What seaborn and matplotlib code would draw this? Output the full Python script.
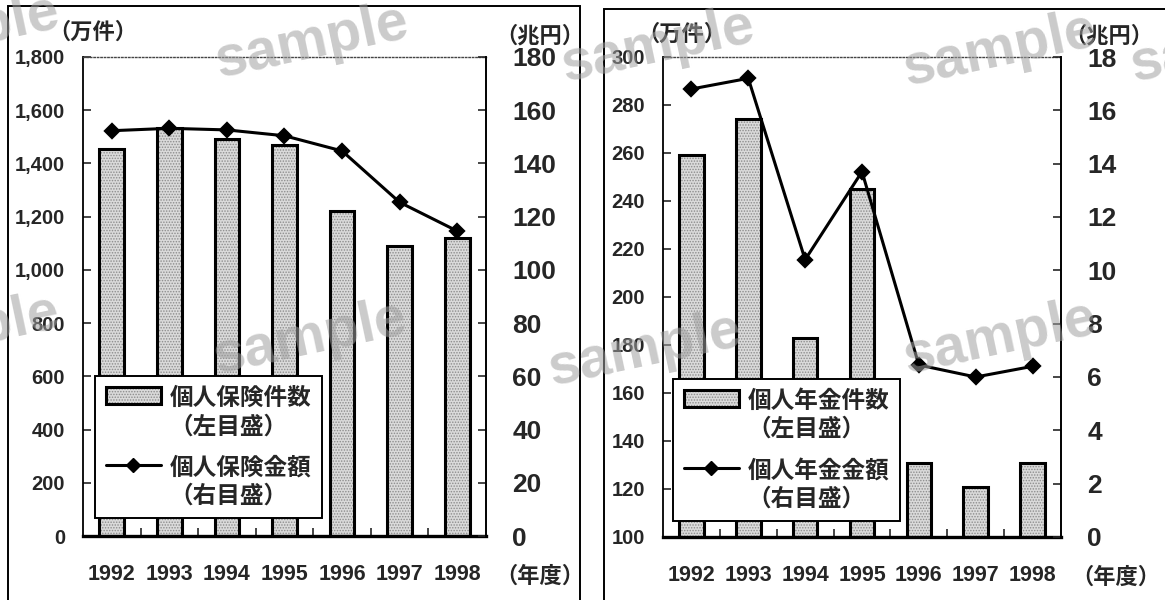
import numpy as np
import pandas as pd
import matplotlib
matplotlib.use("Agg")
import matplotlib.pyplot as plt
import seaborn as sns
from matplotlib.patches import Rectangle
from matplotlib.lines import Line2D
from matplotlib.legend_handler import HandlerBase
from matplotlib.font_manager import FontProperties, fontManager

# ---- data -------------------------------------------------------------
years = ["1992", "1993", "1994", "1995", "1996", "1997", "1998"]

insurance_count = [1455, 1535, 1493, 1470, 1223, 1090, 1120]          # 万件
insurance_amount = [152.3, 153.2, 152.6, 150.4, 144.7, 125.4, 114.6]  # 兆円

annuity_count = [259, 274, 183, 245, 131, 121, 131]                   # 万件
annuity_amount = [16.8, 17.2, 10.4, 13.7, 6.45, 6.0, 6.4]             # 兆円

ins_left_ticks = [0, 200, 400, 600, 800, 1000, 1200, 1400, 1600, 1800]
ins_left_labels = ["0", "200", "400", "600", "800", "1,000", "1,200",
                   "1,400", "1,600", "1,800"]
ins_right_ticks = [0, 20, 40, 60, 80, 100, 120, 140, 160, 180]

ann_left_ticks = [100, 120, 140, 160, 180, 200, 220, 240, 260, 280, 300]
ann_right_ticks = [0, 2, 4, 6, 8, 10, 12, 14, 16, 18]

ins_labels = ["個人保険件数\n（左目盛）", "個人保険金額\n（右目盛）"]
ann_labels = ["個人年金件数\n（左目盛）", "個人年金金額\n（右目盛）"]

# ---- style ------------------------------------------------------------
sns.set_style("white")
plt.rcParams["font.family"] = ["Noto Sans CJK JP", "DejaVu Sans"]
plt.rcParams["hatch.linewidth"] = 0.7

W, H = 1165, 600
installed = {f.name for f in fontManager.ttflist}
NUM = "Liberation Sans"
NARROW = "Liberation Sans Narrow" if "Liberation Sans Narrow" in installed else NUM
XSIZE = 17 if NARROW != NUM else 15.5

BAR_FACE = "#dadada"
HATCH = "......"
HATCH_COLOR = "#8c8c8c"
CJK_BOLD = FontProperties(family="Noto Sans CJK JP", weight="bold", size=16)
LEG_FONT = FontProperties(family="Noto Sans CJK JP", weight="bold", size=17)
LIFT = 13.0  # points: raise legend keys to the first label line


def fx(x):
    return x / W


def fy(y):
    return 1 - y / H


class BarKey(HandlerBase):
    def create_artists(self, legend, orig_handle, xdescent, ydescent,
                       width, height, fontsize, trans):
        y0 = -ydescent + LIFT
        fill = Rectangle((-xdescent, y0), width, height, facecolor=BAR_FACE,
                         edgecolor=HATCH_COLOR, hatch=HATCH, linewidth=0,
                         transform=trans)
        edge = Rectangle((-xdescent, y0), width, height, fill=False,
                         edgecolor="black", linewidth=2.2, transform=trans)
        return [fill, edge]


class LineKey(HandlerBase):
    def create_artists(self, legend, orig_handle, xdescent, ydescent,
                       width, height, fontsize, trans):
        yc = -ydescent + height / 2 + LIFT
        line = Line2D([-xdescent, -xdescent + width], [yc, yc],
                      color="black", linewidth=2.2, transform=trans)
        mark = Line2D([-xdescent + width / 2], [yc], marker="D",
                      markersize=7.5, color="black", linestyle="none",
                      transform=trans)
        return [line, mark]


fig = plt.figure(figsize=(W / 100, H / 100), dpi=100)


def panel(rect, counts, amounts, lticks, llabels, llim, rticks, rlim,
          labels, leg_anchor):
    ax = fig.add_axes(rect)
    df = pd.DataFrame({"year": years, "count": counts, "amount": amounts})

    # dotted grey bars, then a black outline on top of them
    sns.barplot(data=df, x="year", y="count", ax=ax, width=0.43,
                color=BAR_FACE, saturation=1, edgecolor=HATCH_COLOR,
                linewidth=0, hatch=HATCH, errorbar=None, zorder=2)
    sns.barplot(data=df, x="year", y="count", ax=ax, width=0.43,
                color="black", fill=False, linewidth=2.2, errorbar=None,
                zorder=3)
    ax.set_ylim(*llim)
    ax.set_xlim(-0.5, len(years) - 0.5)
    ax.set_yticks(lticks, llabels, fontsize=14.5, fontweight="bold", family=NUM)
    ax.set_xticks(range(len(years)), years, fontsize=XSIZE,
                  fontweight="bold", family=NARROW)
    ax.set_xticks(np.arange(0.5, len(years) - 1, 1.0), minor=True)
    ax.tick_params(axis="y", direction="in", length=6, width=1.2, pad=13,
                   left=True)
    ax.tick_params(axis="x", which="major", length=0, pad=20)
    ax.tick_params(axis="x", which="minor", direction="in", length=6,
                   width=1.2, bottom=True)
    ax.set_xlabel("")
    ax.set_ylabel("")
    for s in ax.spines.values():
        s.set_color("black")
    ax.spines["left"].set_linewidth(1.3)
    ax.spines["bottom"].set_linewidth(2.4)
    ax.spines["bottom"].set_zorder(5)
    ax.spines["top"].set_linestyle((0, (1, 1.5)))
    ax.spines["top"].set_linewidth(1.0)
    ax.spines["top"].set_color("#444444")
    ax.spines["right"].set_visible(False)

    ax2 = ax.twinx()
    sns.pointplot(data=df, x="year", y="amount", ax=ax2, color="black",
                  markers="D", markersize=7.5, linewidth=2.2, errorbar=None)
    ax2.set_ylim(*rlim)
    ax2.set_xlim(-0.5, len(years) - 0.5)
    ax2.set_yticks(rticks, [str(t) for t in rticks], fontsize=19,
                   fontweight="bold", family=NUM)
    ax2.tick_params(axis="y", direction="in", length=6, width=1.2, pad=19,
                    right=True)
    ax2.set_ylabel("")
    ax2.set_xlabel("")
    for k in ("top", "bottom", "left"):
        ax2.spines[k].set_visible(False)
    ax2.spines["right"].set_linewidth(1.4)
    ax2.spines["right"].set_color("black")

    handles = [Rectangle((0, 0), 1, 1), Line2D([], [])]
    leg = ax2.legend(handles, labels, loc="lower left",
                     bbox_to_anchor=leg_anchor, borderaxespad=0,
                     handler_map={Rectangle: BarKey(), Line2D: LineKey()},
                     prop=LEG_FONT, frameon=True, fancybox=False,
                     framealpha=1, edgecolor="black", borderpad=0.45,
                     handlelength=2.35, handleheight=0.7,
                     handletextpad=0.35, labelspacing=0.75)
    leg.get_frame().set_linewidth(1.4)
    for t in leg.get_texts():
        t.set_linespacing(1.2)
    return ax, ax2


panel([fx(83), 1 - 536 / H, fx(486) - fx(83), (536 - 57) / H],
      insurance_count, insurance_amount, ins_left_ticks, ins_left_labels,
      (0, 1800), ins_right_ticks, (0, 180), ins_labels, (0.03, 0.037))

panel([fx(663), 1 - 537 / H, fx(1061) - fx(663), (537 - 57) / H],
      annuity_count, annuity_amount, ann_left_ticks,
      [str(t) for t in ann_left_ticks], (100, 300), ann_right_ticks, (0, 18),
      ann_labels, (0.025, 0.033))

# unit captions
for x, y, s in [(93, 32, "（万件）"), (540, 36, "（兆円）"), (540, 576, "（年度）"),
                (682, 34, "（万件）"), (1109, 36, "（兆円）"), (1116, 577, "（年度）")]:
    fig.text(fx(x), fy(y), s, ha="center", va="center", fontproperties=CJK_BOLD)

# panel frames
for x0, x1, y0 in [(8, 580, 6), (604, 1180, 9)]:
    fig.add_artist(Rectangle((fx(x0), -0.02), fx(x1) - fx(x0), fy(y0) + 0.02,
                             transform=fig.transFigure, fill=False,
                             edgecolor="black", linewidth=1.4, zorder=10))

# background stamp
for x, y in [(-37, 32), (312, 42), (658, 46), (1000, 50), (1227, 46),
             (-37, 332), (310, 338), (645, 350), (1000, 338)]:
    fig.text(fx(x), fy(y), "sample", ha="center", va="center", rotation=12,
             fontsize=41, fontweight="bold", family=NUM, color="#a0a0a0",
             alpha=0.55, zorder=20)

fig.savefig("out.png", dpi=100)
